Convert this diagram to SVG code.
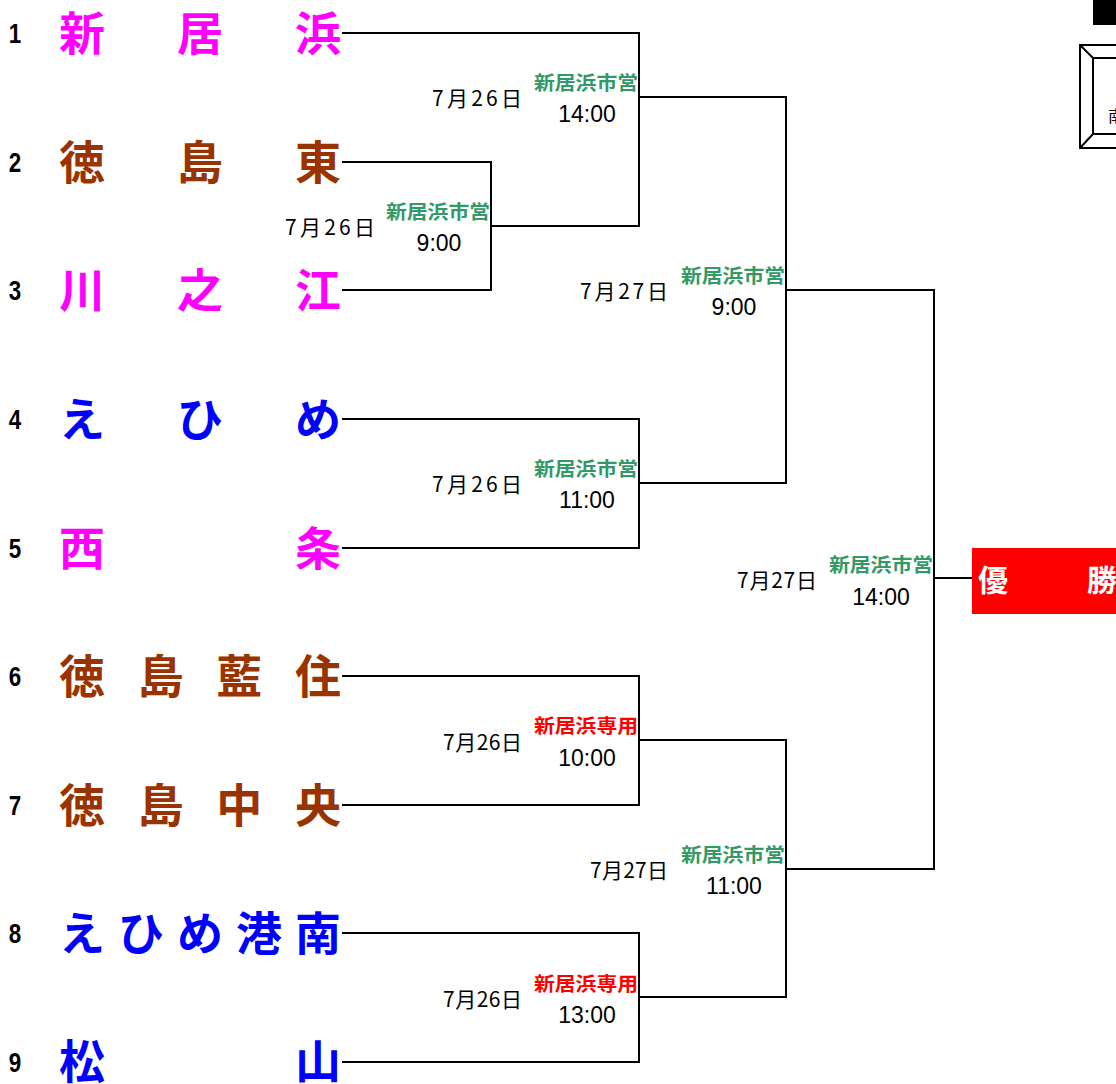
<svg xmlns="http://www.w3.org/2000/svg" width="1116" height="1084" viewBox="0 0 1116 1084">
<style>
.num{font-family:"Liberation Sans",Arial,sans-serif;font-weight:bold;font-size:28px;fill:#000}
.team{font-family:"Noto Sans CJK JP",sans-serif;font-weight:bold;font-size:46px}
.mag{fill:#FF00FF}.brn{fill:#993300}.blu{fill:#0000FF}
.date{font-family:"Noto Sans CJK JP",sans-serif;font-size:21px;fill:#000;text-anchor:end}
.ven{font-family:"Noto Sans CJK JP",sans-serif;font-weight:bold;font-size:19px;text-anchor:end}
.g{fill:#339966}.r{fill:#FF0000}
.time{font-family:"Liberation Sans",Arial,sans-serif;font-size:23px;fill:#000;text-anchor:middle}
.ln{fill:none;stroke:#000;stroke-width:2;stroke-linecap:square}
</style>
<rect x="0" y="0" width="1116" height="1084" fill="#fff"/>
<g id="deco">
<rect x="1093" y="0" width="30" height="25" fill="#000"/>
<rect x="1080" y="45" width="50" height="103" fill="none" stroke="#000" stroke-width="2"/>
<rect x="1093" y="58" width="40" height="76" fill="none" stroke="#000" stroke-width="2"/>
<path d="M1080,45 L1093,58 M1080,148 L1093,134" stroke="#000" stroke-width="2"/>
<text x="1108" y="122" font-family="Noto Sans CJK JP,sans-serif" font-size="16" fill="#000">南</text>
</g>
<g id="connectors">
<path class="ln" d="M343,33 H639 V226 M343,162 H491 V290 H343 M491,226 H639 M639,97 H786 M343,419 H639 V548 H343 M639,483 H786 M786,97 V483 M786,290 H934 M343,676 H639 V805 H343 M639,740 H786 M343,933 H639 V1062 H343 M639,997 H786 M786,740 V997 M786,869 H934 M934,290 V869 M934,578 H972"/>
</g>
<g id="team1"><text class="num" transform="translate(15,43) scale(0.8,1)" text-anchor="middle">1</text><text class="team mag" x="59 177 295" y="50">新居浜</text></g>
<g id="team2"><text class="num" transform="translate(15,172) scale(0.8,1)" text-anchor="middle">2</text><text class="team brn" x="59 177 295" y="179">徳島東</text></g>
<g id="team3"><text class="num" transform="translate(15,300) scale(0.8,1)" text-anchor="middle">3</text><text class="team mag" x="59 177 295" y="307">川之江</text></g>
<g id="team4"><text class="num" transform="translate(15,429) scale(0.8,1)" text-anchor="middle">4</text><text class="team blu" x="59 177 295" y="436">えひめ</text></g>
<g id="team5"><text class="num" transform="translate(15,558) scale(0.8,1)" text-anchor="middle">5</text><text class="team mag" x="59 295" y="565">西条</text></g>
<g id="team6"><text class="num" transform="translate(15,686) scale(0.8,1)" text-anchor="middle">6</text><text class="team brn" x="59 137.7 216.3 295" y="693">徳島藍住</text></g>
<g id="team7"><text class="num" transform="translate(15,815) scale(0.8,1)" text-anchor="middle">7</text><text class="team brn" x="59 137.7 216.3 295" y="822">徳島中央</text></g>
<g id="team8"><text class="num" transform="translate(15,943) scale(0.8,1)" text-anchor="middle">8</text><text class="team blu" x="59 118 177 236 295" y="950">えひめ港南</text></g>
<g id="team9"><text class="num" transform="translate(15,1072) scale(0.8,1)" text-anchor="middle">9</text><text class="team blu" x="59 295" y="1078">松山</text></g>
<g id="match1"><text class="ven g" x="638" y="90" textLength="104" lengthAdjust="spacingAndGlyphs">新居浜市営</text><text class="date" x="522" y="106" textLength="90" lengthAdjust="spacing">7月26日</text><text class="time" x="587" y="122">14:00</text></g>
<g id="match2"><text class="ven g" x="490" y="219" textLength="104" lengthAdjust="spacingAndGlyphs">新居浜市営</text><text class="date" x="375" y="235" textLength="90" lengthAdjust="spacing">7月26日</text><text class="time" x="439" y="251">9:00</text></g>
<g id="match3"><text class="ven g" x="785" y="283" textLength="104" lengthAdjust="spacingAndGlyphs">新居浜市営</text><text class="date" x="668" y="299" textLength="88" lengthAdjust="spacing">7月27日</text><text class="time" x="734" y="315">9:00</text></g>
<g id="match4"><text class="ven g" x="638" y="476" textLength="104" lengthAdjust="spacingAndGlyphs">新居浜市営</text><text class="date" x="522" y="492" textLength="90" lengthAdjust="spacing">7月26日</text><text class="time" x="587" y="508">11:00</text></g>
<g id="final"><text class="ven g" x="933" y="572" textLength="104" lengthAdjust="spacingAndGlyphs">新居浜市営</text><text class="date" x="817" y="588" textLength="80" lengthAdjust="spacing">7月27日</text><text class="time" x="881" y="605">14:00</text></g>
<g id="match6"><text class="ven r" x="638" y="733" textLength="104" lengthAdjust="spacingAndGlyphs">新居浜専用</text><text class="date" x="522" y="750" textLength="79" lengthAdjust="spacing">7月26日</text><text class="time" x="587" y="766">10:00</text></g>
<g id="match7"><text class="ven g" x="785" y="862" textLength="104" lengthAdjust="spacingAndGlyphs">新居浜市営</text><text class="date" x="668" y="878" textLength="78" lengthAdjust="spacing">7月27日</text><text class="time" x="734" y="894">11:00</text></g>
<g id="match8"><text class="ven r" x="638" y="991" textLength="104" lengthAdjust="spacingAndGlyphs">新居浜専用</text><text class="date" x="522" y="1007" textLength="79" lengthAdjust="spacing">7月26日</text><text class="time" x="587" y="1023">13:00</text></g>
<g id="champion"><rect x="972" y="548" width="150" height="66" fill="#FF0000"/><text x="978 1087" y="591" font-family="Noto Sans CJK JP,sans-serif" font-weight="bold" font-size="30" fill="#fff">優勝</text></g>
</svg>
